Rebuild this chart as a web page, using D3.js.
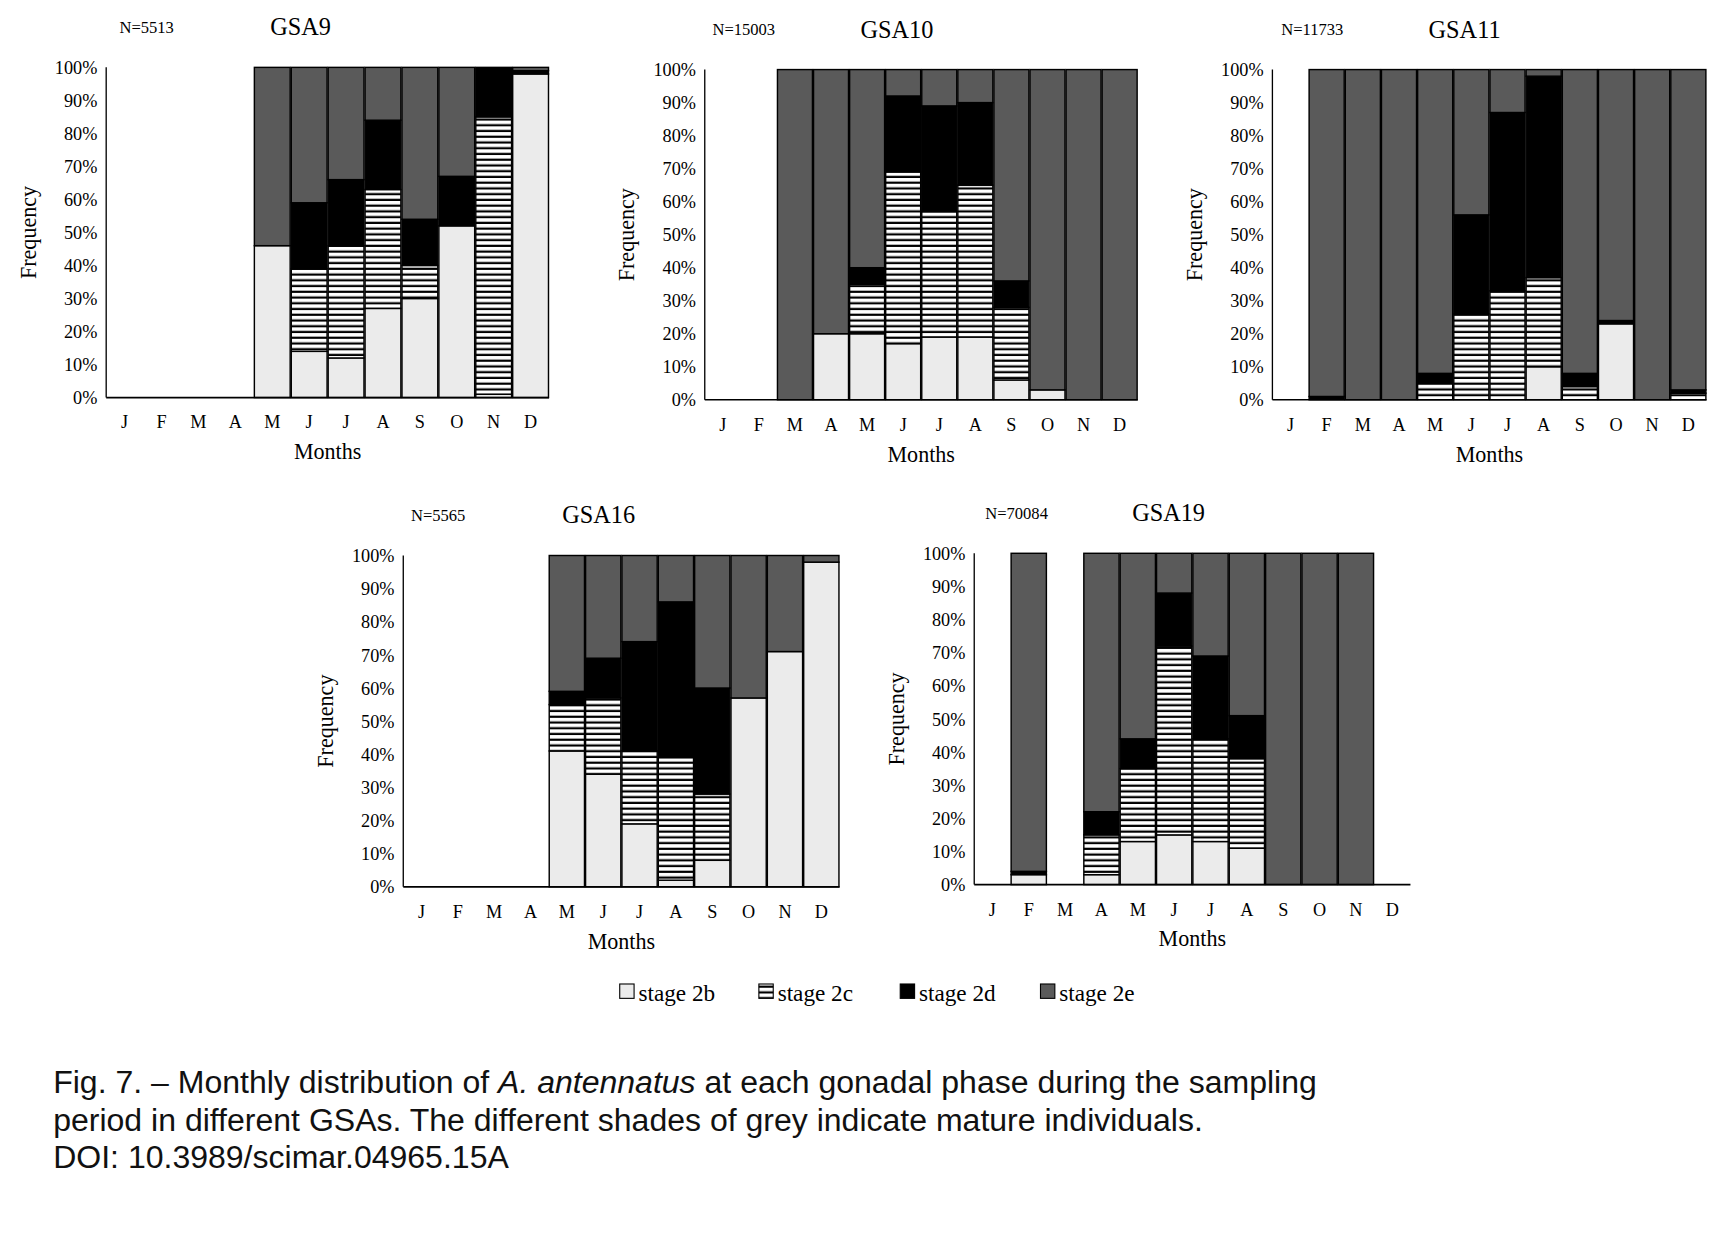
<!DOCTYPE html>
<html><head><meta charset="utf-8">
<script src="https://cdn.jsdelivr.net/npm/d3@7/dist/d3.min.js"></script>
<style>body{margin:0;background:#fff}</style></head>
<body><svg id="c" width="1732" height="1238" viewBox="0 0 1568 1121"></svg>
<script>
const months = ["J","F","M","A","M","J","J","A","S","O","N","D"];
const stages = ["stage 2b","stage 2c","stage 2d","stage 2e"];
const yTicks = [0,10,20,30,40,50,60,70,80,90,100];
// each month: [2b,2c,2d,2e] in %, null = no sample
const gsa9 = [null,null,null,null,[46,0,0,54],[14,25,20,41],[12,34,20,34],[27,36,21,16],[30,10,14,46],[52,0,15,33],[1,84,15,0],[98,0,1,1]];
const gsa10 = [null,null,[0,0,0,100],[20,0,0,80],[20,15,5,60],[17,52,23,8],[19,38,32,11],[19,46,25,10],[6,22,8,64],[3,0,0,97],[0,0,0,100],[0,0,0,100]];
const gsa11 = [null,[0,0,1,99],[0,0,0,100],[0,0,0,100],[0,5,3,92],[0,26,30,44],[0,33,54,13],[10,27,61,2],[0,4,4,92],[23,0,1,76],[0,0,0,100],[0,2,1,97]];
const gsa16 = [null,null,null,null,[41,14,4,41],[34,23,12,31],[19,22,33,26],[2,37,47,14],[8,20,32,40],[57,0,0,43],[71,0,0,29],[98,0,0,2]];
const gsa19 = [null,[3,0,1,96],null,[3,12,7,78],[13,22,9,56],[15,57,16,12],[13,31,25,31],[11,27,13,49],[0,0,0,100],[0,0,0,100],[0,0,0,100],null];
const panels = [
 {name:"GSA9", n:"N=5513", data:gsa9, x0:96, x1:497, y0:61, y1:360, nx:108, tx:272, ty:25},
 {name:"GSA10", n:"N=15003", data:gsa10, x0:638, x1:1030, y0:63, y1:362, nx:645, tx:812, ty:27},
 {name:"GSA11", n:"N=11733", data:gsa11, x0:1152, x1:1545, y0:63, y1:362, nx:1160, tx:1326, ty:27},
 {name:"GSA16", n:"N=5565", data:gsa16, x0:365, x1:760, y0:503, y1:803, nx:372, tx:542, ty:467},
 {name:"GSA19", n:"N=70084", data:gsa19, x0:882, x1:1277, y0:501, y1:801, nx:892, tx:1058, ty:465, extra:true}
];
const svg = d3.select("#c");
const defs = svg.append("defs");
const pat = defs.append("pattern").attr("id","hatch").attr("patternUnits","userSpaceOnUse").attr("width",8).attr("height",5.2);
pat.append("rect").attr("width",8).attr("height",5.2).attr("fill","#fff");
pat.append("rect").attr("y",3.2).attr("width",8).attr("height",2).attr("fill","#000");
const fills = ["#ebebeb","url(#hatch)","#000","#5a5a5a"];
const serif = "'Liberation Serif','Times New Roman',serif";

panels.forEach(p=>{
  const g = svg.append("g");
  const x = d3.scaleBand().domain(d3.range(12)).range([p.x0,p.x1]).paddingInner(0.03).paddingOuter(0.015);
  const y = d3.scaleLinear().domain([0,100]).range([p.y1,p.y0]);
  p.data.forEach((d,i)=>{
    if(!d) return;
    let acc=0;
    d.forEach((v,k)=>{
      if(v>0){
        g.append("rect").attr("x",x(i)).attr("width",x.bandwidth())
          .attr("y",y(acc+v)).attr("height",y(acc)-y(acc+v))
          .attr("fill",fills[k]).attr("stroke","#000").attr("stroke-width",1.3);
      }
      acc+=v;
    });
  });
  g.append("line").attr("x1",p.x0).attr("x2",p.x0).attr("y1",p.y0).attr("y2",p.y1).attr("stroke","#000").attr("stroke-width",1.2);
  g.append("line").attr("x1",p.x0).attr("x2",p.x1).attr("y1",p.y1).attr("y2",p.y1).attr("stroke","#000").attr("stroke-width",1.5);
  yTicks.forEach(t=>{
    g.append("text").attr("x",p.x0-8).attr("y",y(t)+6).attr("text-anchor","end")
     .attr("font-family",serif).attr("font-size",16.5).text(t+"%");
  });
  months.forEach((m,i)=>{
    g.append("text").attr("x",x(i)+x.bandwidth()/2).attr("y",p.y1+28).attr("text-anchor","middle")
     .attr("font-family",serif).attr("font-size",16.5).text(m);
  });
  g.append("text").attr("x",(p.x0+p.x1)/2).attr("y",p.y1+56).attr("text-anchor","middle")
   .attr("font-family",serif).attr("font-size",20).text("Months");
  g.append("text").attr("transform",`translate(${p.x0-64},${(p.y0+p.y1)/2}) rotate(-90)`).attr("text-anchor","middle")
   .attr("font-family",serif).attr("font-size",20).text("Frequency");
  g.append("text").attr("x",p.tx).attr("y",p.ty+7).attr("text-anchor","middle").attr("font-family",serif).attr("font-size",22).text(p.name);
  g.append("text").attr("x",p.nx).attr("y",p.ty+5).attr("font-family",serif).attr("font-size",15).text(p.n);
});

// legend
const lx = [561,687,815,942];
stages.forEach((s,k)=>{
  svg.append("rect").attr("x",lx[k]).attr("y",891).attr("width",13).attr("height",13)
    .attr("fill",fills[k]).attr("stroke","#000").attr("stroke-width",1);
  svg.append("text").attr("x",lx[k]+17).attr("y",906).attr("font-family",serif).attr("font-size",21).text(s);
});
// caption
const sans = "'Liberation Sans',Arial,sans-serif";
const cap = svg.append("text").attr("font-family",sans).attr("font-size",29).attr("fill","#111");
const l1 = cap.append("tspan").attr("x",48).attr("y",990);
l1.append("tspan").text("Fig. 7. – Monthly distribution of ");
l1.append("tspan").attr("font-style","italic").text("A. antennatus");
l1.append("tspan").text(" at each gonadal phase during the sampling");
cap.append("tspan").attr("x",48).attr("y",1024).text("period in different GSAs. The different shades of grey indicate mature individuals.");
cap.append("tspan").attr("x",48).attr("y",1058).text("DOI: 10.3989/scimar.04965.15A");
</script></body></html>
